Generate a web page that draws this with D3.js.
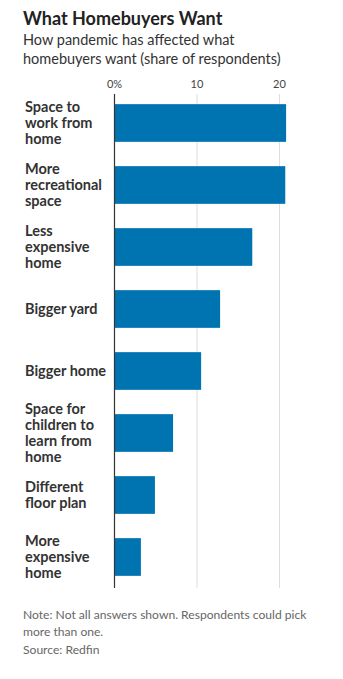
<!DOCTYPE html>
<html>
<head>
<meta charset="utf-8">
<script src="https://cdn.jsdelivr.net/npm/d3@7"></script>
<style>
  body { margin: 0; background: #fff; }
  svg { display: block; font-family: Lato, "Noto Sans", sans-serif; }
</style>
</head>
<body>
<div id="chart"></div>
<script>
// survey answers, top to bottom
const categories = [
    ["Space to", "work from", "home"],
    ["More", "recreational", "space"],
    ["Less", "expensive", "home"],
    ["Bigger yard"],
    ["Bigger home"],
    ["Space for", "children to", "learn from", "home"],
    ["Different", "floor plan"],
    ["More", "expensive", "home"]
];
const shares = [20.8, 20.7, 16.7, 12.8, 10.5, 7.1, 4.9, 3.2];
const ticks = [0, 10, 20];
const noteLines = [
    "Note: Not all answers shown. Respondents could pick",
    "more than one.",
    "Source: Redfin"
];

const width = 343, height = 679;
const data = categories.map((c, i) => ({ key: i, lines: c, value: shares[i] }));

const svg = d3.select("#chart").append("svg")
    .attr("width", width)
    .attr("height", height);

svg.append("text")
    .attr("x", 23)
    .attr("y", 25)
    .style("font-size", "18px")
    .style("font-weight", "bold")
    .attr("fill", "#222")
    .text("What Homebuyers Want");

svg.selectAll(".sub")
    .data(["How pandemic has affected what", "homebuyers want (share of respondents)"])
    .enter().append("text")
    .attr("class", "sub")
    .attr("x", 23)
    .attr("y", (d, i) => 45 + i * 19)
    .style("font-size", "14.5px")
    .attr("fill", "#333")
    .text(d => d);

let x = d3.scaleLinear()
    .domain([0, 20])
    .range([114.5, 279.5]);

let y = d3.scaleBand()
    .domain(data.map(d => d.key))
    .range([92, 588])
    .paddingInner(0.392)
    .paddingOuter(0.196);

// gridlines
svg.append("g")
    .selectAll("line")
    .data(ticks.filter(t => t > 0))
    .enter().append("line")
    .attr("x1", d => x(d)).attr("x2", d => x(d))
    .attr("y1", 94).attr("y2", 588)
    .attr("stroke", "#ddd")
    .attr("stroke-width", 1);

// tick labels
svg.append("g")
    .selectAll("text")
    .data(ticks)
    .enter().append("text")
    .attr("x", d => x(d))
    .attr("y", 88)
    .attr("text-anchor", "middle")
    .style("font-size", "11px")
    .attr("fill", "#444")
    .text(d => d === 0 ? "0%" : d);

svg.selectAll(".bar")
    .data(data)
    .enter().append("rect")
    .attr("class", "bar")
    .attr("x", x(0))
    .attr("y", d => y(d.key))
    .attr("width", d => x(d.value) - x(0))
    .attr("height", y.bandwidth())
    .attr("fill", "#0074b1");

// zero line
svg.append("line")
    .attr("x1", x(0)).attr("x2", x(0))
    .attr("y1", 94).attr("y2", 588)
    .attr("stroke", "#333")
    .attr("stroke-width", 1.2);

const lineH = 16;
svg.selectAll(".label")
    .data(data)
    .enter().append("text")
    .attr("class", "label")
    .style("font-size", "14.5px")
    .style("font-weight", "bold")
    .attr("fill", "#333")
    .each(function(d) {
        const cy = y(d.key) + y.bandwidth() / 2;
        const top = cy - (d.lines.length - 1) * lineH / 2;
        d3.select(this).selectAll("tspan")
            .data(d.lines)
            .enter().append("tspan")
            .attr("x", 25)
            .attr("y", (l, i) => top + i * lineH)
            .attr("dy", "0.35em")
            .text(l => l);
    });

svg.selectAll(".note")
    .data(noteLines)
    .enter().append("text")
    .attr("class", "note")
    .attr("x", 23)
    .attr("y", (d, i) => 614.5 + i * 17.5)
    .attr("dy", "0.35em")
    .style("font-size", "12.1px")
    .attr("fill", "#666")
    .text(d => d);
</script>
</body>
</html>
